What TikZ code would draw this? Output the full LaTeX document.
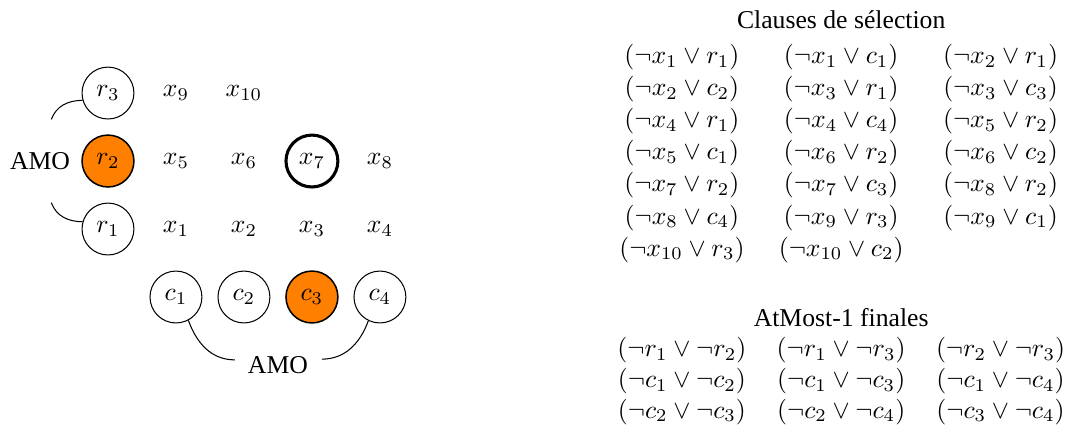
\documentclass[tikz,border=0pt]{standalone}
\usepackage{fontspec}
\setmainfont{Liberation Serif}
\usepackage{array}
\usepackage{tikz}
\usetikzlibrary{positioning, calc}
\definecolor{pickorange}{RGB}{255, 128, 0}

\begin{document}
\begin{tikzpicture}[
    on grid,
    node distance=0.93cm,
    cell/.style={circle, minimum size=0.71cm, inner sep=0pt},
    var/.style={cell, draw},
    chosen/.style={cell, draw, semithick, fill=pickorange},
    hit/.style={cell, draw, very thick}
]
\useasboundingbox (-1.477,-2.736) rectangle (13.146,3.133);

% Grille des variables
\node[var] (r1) {$r_1$};
\node[chosen, above=of r1] (r2) {$r_2$};
\node[var, above=of r2] (r3) {$r_3$};
\node[cell, right=of r1] (x1) {$x_1$};
\node[cell, right=of x1] (x2) {$x_2$};
\node[cell, right=of x2] (x3) {$x_3$};
\node[cell, right=of x3] (x4) {$x_4$};
\node[cell, right=of r2] (x5) {$x_5$};
\node[cell, right=of x5] (x6) {$x_6$};
\node[hit, right=of x6] (x7) {$x_7$};
\node[cell, right=of x7] (x8) {$x_8$};
\node[cell, right=of r3] (x9) {$x_9$};
\node[cell, right=of x9] (x10) {$x_{10}$};
\node[var, below=of x1] (c1) {$c_1$};
\node[var, below=of x2] (c2) {$c_2$};
\node[chosen, below=of x3] (c3) {$c_3$};
\node[var, below=of x4] (c4) {$c_4$};

% Contraintes AMO
\node[left=of r2] (amoR) {AMO};
\node (amoC) at ($(c2)!0.5!(c3)+(0,-0.93)$) {AMO};
\coordinate (amoRn) at ($(amoR)+(0.155,0.57)$);
\coordinate (amoRs) at ($(amoR)+(0.155,-0.57)$);
\coordinate (amoCw) at ($(amoC)+(-0.59,0.07)$);
\coordinate (amoCe) at ($(amoC)+(0.6,0.08)$);
\draw (amoRn) to[out=70, in=180] (r3.196);
\draw (amoRs) to[out=-70, in=180] (r1.164);
\draw (c1.298) to[out=-70, in=180] (amoCw);
\draw (c4.244) to[out=-110, in=0] (amoCe);

% Clauses
\node (selTitle) at (10.03,2.86) {Clauses de sélection};
\node[below=1.827 of selTitle] (selTab) {\renewcommand{\arraystretch}{1.04}%
\begin{tabular}{*{3}{w{c}{50pt}}}
$(\neg x_1 \lor r_1)$ & $(\neg x_1 \lor c_1)$ & $(\neg x_2 \lor r_1)$\\
$(\neg x_2 \lor c_2)$ & $(\neg x_3 \lor r_1)$ & $(\neg x_3 \lor c_3)$\\
$(\neg x_4 \lor r_1)$ & $(\neg x_4 \lor c_4)$ & $(\neg x_5 \lor r_2)$\\
$(\neg x_5 \lor c_1)$ & $(\neg x_6 \lor r_2)$ & $(\neg x_6 \lor c_2)$\\
$(\neg x_7 \lor r_2)$ & $(\neg x_7 \lor c_3)$ & $(\neg x_8 \lor r_2)$\\
$(\neg x_8 \lor c_4)$ & $(\neg x_9 \lor r_3)$ & $(\neg x_9 \lor c_1)$\\
$(\neg x_{10} \lor r_3)$ & $(\neg x_{10} \lor c_2)$ &
\end{tabular}};

\node (amoTitle) at (10.03,-1.218) {AtMost-1 finales};
\node[below=0.861 of amoTitle] (amoTab) {\begin{tabular}{*{3}{w{c}{50pt}}}
$(\neg r_1 \lor \neg r_2)$ & $(\neg r_1 \lor \neg r_3)$ & $(\neg r_2 \lor \neg r_3)$\\
$(\neg c_1 \lor \neg c_2)$ & $(\neg c_1 \lor \neg c_3)$ & $(\neg c_1 \lor \neg c_4)$\\
$(\neg c_2 \lor \neg c_3)$ & $(\neg c_2 \lor \neg c_4)$ & $(\neg c_3 \lor \neg c_4)$
\end{tabular}};
\end{tikzpicture}
\end{document}
